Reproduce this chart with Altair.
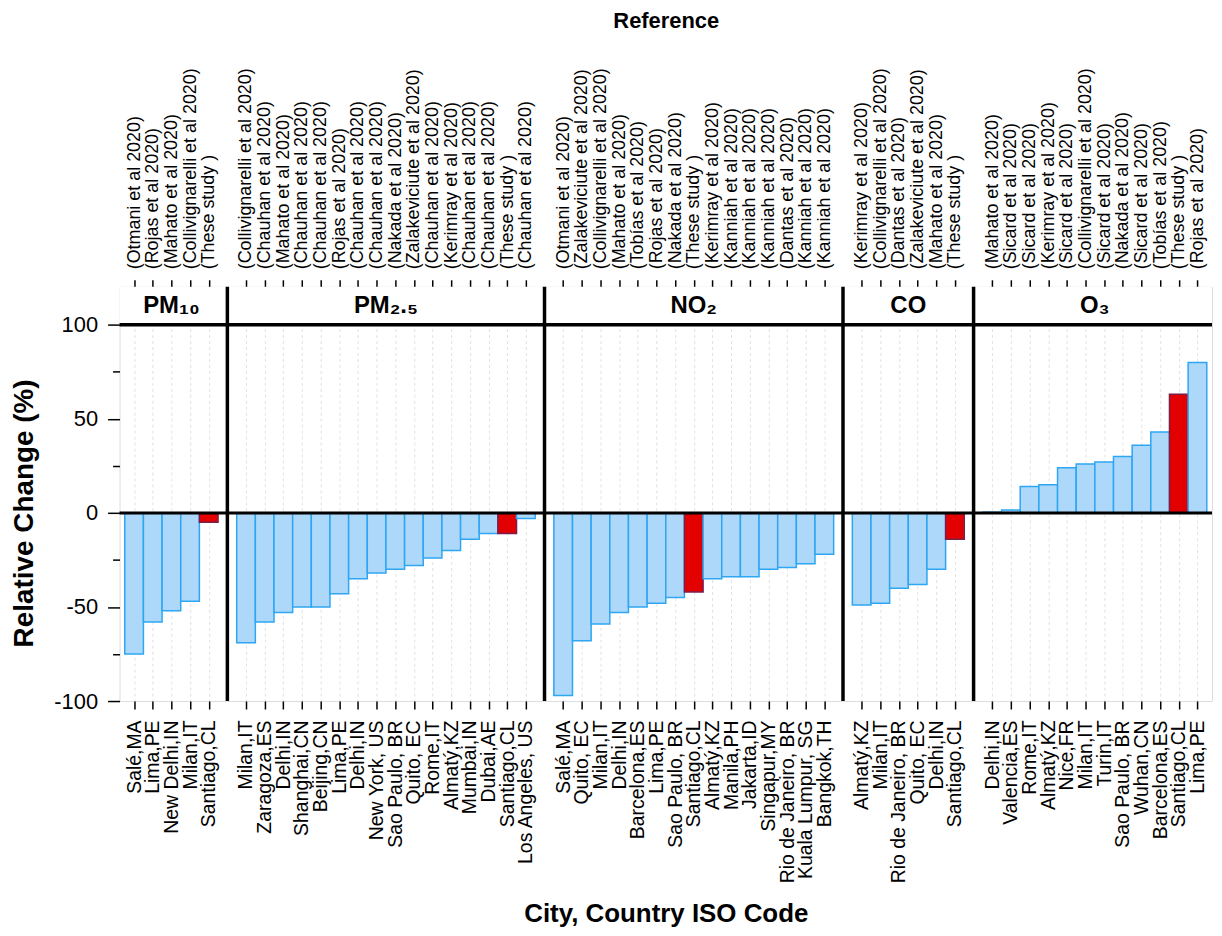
import altair as alt
import pandas as pd

# ---------------- data ----------------
pollutants = ["PM10", "PM2.5", "NO2", "CO", "O3"]
strip_labels = ["PM₁₀", "PM₂.₅", "NO₂", "CO", "O₃"]

pm10_cities = ["Salé,MA", "Lima,PE", "New Delhi,IN", "Milan,IT", "Santiago,CL"]
pm10_refs = ["(Otmani et al 2020)", "(Rojas et al 2020)", "(Mahato et al 2020)",
             "(Collivignarelli et al 2020)", "(These study )"]
pm10_vals = [-75, -58, -52, -47, -5]

pm25_cities = ["Milan,IT", "Zaragoza,ES", "Delhi,IN", "Shanghai,CN", "Beijing,CN", "Lima,PE",
               "Delhi,IN", "New York, US", "Sao Paulo, BR", "Quito, EC", "Rome,IT", "Almatý,KZ",
               "Mumbai,IN", "Dubai,AE", "Santiago,CL", "Los Angeles, US"]
pm25_refs = ["(Collivignarelli et al 2020)", "(Chauhan et al 2020)", "(Mahato et al 2020)",
             "(Chauhan et al 2020)", "(Chauhan et al 2020)", "(Rojas et al 2020)",
             "(Chauhan et al 2020)", "(Chauhan et al 2020)", "(Nakada et al 2020)",
             "(Zalakeviciute et al 2020)", "(Chauhan et al 2020)", "(Kerimray et al 2020)",
             "(Chauhan et al 2020)", "(Chauhan et al 2020)", "(These study )",
             "(Chauhan et al 2020)"]
pm25_vals = [-69, -58, -53, -50, -50, -43, -35, -32, -30, -28, -24, -20, -14, -11, -11, -3]

no2_cities = ["Salé,MA", "Quito, EC", "Milan,IT", "Delhi,IN", "Barcelona,ES", "Lima,PE",
              "Sao Paulo, BR", "Santiago,CL", "Almatý,KZ", "Manila,PH", "Jakarta,ID",
              "Singapur,MY", "Rio de Janeiro, BR", "Kuala Lumpur, SG", "Bangkok,TH"]
no2_refs = ["(Otmani et al 2020)", "(Zalakeviciute et al 2020)", "(Collivignarelli et al 2020)",
            "(Mahato et al 2020)", "(Tobías et al 2020)", "(Rojas et al 2020)",
            "(Nakada et al 2020)", "(These study )", "(Kerimray et al 2020)",
            "(Kanniah et al 2020)", "(Kanniah et al 2020)", "(Kanniah et al 2020)",
            "(Dantas et al 2020)", "(Kanniah et al 2020)", "(Kanniah et al 2020)"]
no2_vals = [-97, -68, -59, -53, -50, -48, -45, -42, -35, -34, -34, -30, -29, -27, -22]

co_cities = ["Almatý,KZ", "Milan,IT", "Rio de Janeiro, BR", "Quito, EC", "Delhi,IN", "Santiago,CL"]
co_refs = ["(Kerimray et al 2020)", "(Collivignarelli et al 2020)", "(Dantas et al 2020)",
           "(Zalakeviciute et al 2020)", "(Mahato et al 2020)", "(These study )"]
co_vals = [-49, -48, -40, -38, -30, -14]

o3_cities = ["Delhi,IN", "Valencia,ES", "Rome,IT", "Almatý,KZ", "Nice,FR", "Milan,IT",
             "Turin,IT", "Sao Paulo, BR", "Wuhan,CN", "Barcelona,ES", "Santiago,CL", "Lima,PE"]
o3_refs = ["(Mahato et al 2020)", "(Sicard et al 2020)", "(Sicard et al 2020)",
           "(Kerimray et al 2020)", "(Sicard et al 2020)", "(Collivignarelli et al 2020)",
           "(Sicard et al 2020)", "(Nakada et al 2020)", "(Sicard et al 2020)",
           "(Tobías et al 2020)", "(These study )", "(Rojas et al 2020)"]
o3_vals = [0.4, 1.5, 14, 15, 24, 26, 27, 30, 36, 43, 63, 80]

groups = [
    (pm10_cities, pm10_refs, pm10_vals),
    (pm25_cities, pm25_refs, pm25_vals),
    (no2_cities, no2_refs, no2_vals),
    (co_cities, co_refs, co_vals),
    (o3_cities, o3_refs, o3_vals),
]

Y_MIN, Y_MAX, STRIP_TOP = -100, 100, 120.2
W, H = 1097, 416

# ---------------- build tables ----------------
rows, domain, real_keys, gaps, strips_odd, strips_even = [], [], [], [], [], []
for p, (pol, lab, (cities, refs, vals)) in enumerate(zip(pollutants, strip_labels, groups)):
    if p > 0:
        g = f"gap{p}"
        domain.append(g)
        gaps.append({"key": g})
    keys = []
    for i, (c, r, v) in enumerate(zip(cities, refs, vals)):
        k = f"{pol}|{i}|{c}|{r}"
        keys.append(k)
        rows.append({"key": k, "value": v, "own": r.startswith("(These")})
    domain += keys
    real_keys += keys
    n = len(keys)
    mid_y = (Y_MAX + STRIP_TOP) / 2
    if n % 2 == 1:
        strips_odd.append({"key": keys[n // 2], "label": lab, "ty": mid_y})
    else:
        strips_even.append({"key": keys[n // 2 - 1], "label": lab, "ty": mid_y})

df = pd.DataFrame(rows)
gap_df = pd.DataFrame(gaps)
odd_df = pd.DataFrame(strips_odd)
even_df = pd.DataFrame(strips_even)
strip_df = pd.DataFrame([{"y1": Y_MAX, "y2": STRIP_TOP}])
line_df = pd.DataFrame([{"yv": 0.0, "w": 3}, {"yv": float(Y_MAX), "w": 3.5}])

FONT = "Liberation Sans"
xscale = alt.Scale(domain=domain, paddingInner=0, paddingOuter=0.28)
yscale = alt.Scale(domain=[Y_MIN, STRIP_TOP], nice=False, zero=False)

tick_props = dict(ticks=True, tickColor="#000000", tickOpacity=1, tickWidth=1.5,
                  tickBand="center", tickOffset=0, bandPosition=0.5)

bottom_axis = alt.Axis(
    orient="bottom", values=real_keys, labelExpr="split(datum.value, '|')[2]",
    labelAngle=270, labelFont=FONT, labelFontSize=19.5, labelColor="black", labelPadding=11,
    labelLimit=400, tickSize=8, domain=False,
    grid=True, gridDash=[3, 3], gridColor="#d9d9d9", gridWidth=0.8,
    title="City, Country ISO Code", titleFont=FONT, titleFontSize=26,
    titleFontWeight="bold", titleColor="black", titlePadding=18, **tick_props,
)
top_axis = alt.Axis(
    orient="top", values=real_keys, labelExpr="split(datum.value, '|')[3]",
    labelAngle=270, labelFont=FONT, labelFontSize=18, labelColor="black", labelPadding=11,
    labelLimit=400, tickSize=7, domain=False, grid=False,
    title="Reference", titleFont=FONT, titleFontSize=22, titleFontWeight="bold",
    titleColor="black", titlePadding=55, **tick_props,
)
y_axis = alt.Axis(
    orient="left",
    values=[-100, -75, -50, -25, 0, 25, 50, 75, 100],
    labelExpr="datum.value % 50 === 0 ? toString(datum.value) : ''",
    labelFont=FONT, labelFontSize=22, labelColor="black", labelPadding=10,
    ticks=True, tickColor="black", tickWidth=1.5,
    tickSize={"condition": {"test": "datum.value % 50 === 0", "value": 12}, "value": 7},
    domain=False, grid=False,
    title="Relative Change (%)", titleFont=FONT, titleFontSize=28, titleFontWeight="bold",
    titleColor="black", titlePadding=15,
    titleY=H * (STRIP_TOP - 0) / (STRIP_TOP - Y_MIN),
)

bars = alt.Chart(df).mark_bar(strokeWidth=1.5).encode(
    x=alt.X("key:N", scale=xscale, axis=bottom_axis),
    y=alt.Y("value:Q", scale=yscale, axis=y_axis),
    y2=alt.Y2Datum(0),
    fill=alt.condition("datum.own", alt.value("#E30000"), alt.value("#ADD8FA")),
    stroke=alt.condition("datum.own", alt.value("#7A1F4A"), alt.value("#2EA6F2")),
)

strip_bg = alt.Chart(strip_df).mark_rect(fill="white").encode(
    y=alt.Y("y1:Q", scale=yscale, axis=None),
    y2="y2:Q",
)

hlines = alt.Chart(line_df).mark_rule(color="black").encode(
    y=alt.Y("yv:Q", scale=yscale, axis=None),
    strokeWidth=alt.StrokeWidth("w:Q", scale=None),
)

seps = alt.Chart(gap_df).mark_rule(color="black", strokeWidth=3.5).encode(
    x=alt.X("key:N", scale=xscale, axis=None),
)

txt_odd = alt.Chart(odd_df).mark_text(
    font=FONT, fontSize=24, fontWeight="bold", color="black", baseline="middle"
).encode(
    x=alt.X("key:N", scale=xscale, axis=None, bandPosition=0.5),
    y=alt.Y("ty:Q", scale=yscale, axis=None),
    text="label:N",
)
txt_even = alt.Chart(even_df).mark_text(
    font=FONT, fontSize=24, fontWeight="bold", color="black", baseline="middle"
).encode(
    x=alt.X("key:N", scale=xscale, axis=None, bandPosition=1.0),
    y=alt.Y("ty:Q", scale=yscale, axis=None),
    text="label:N",
)

top = alt.Chart(df).mark_point(opacity=0).encode(
    x=alt.X("key:N", scale=xscale, axis=top_axis),
)

chart = alt.layer(bars, strip_bg, hlines, seps, txt_odd, txt_even, top).resolve_axis(
    x="independent", y="independent"
).resolve_scale(x="shared", y="shared").properties(
    width=W, height=H,
    padding={"left": 2, "right": 0, "top": 0, "bottom": 0},
).configure_view(
    stroke="black", strokeWidth=3.5, fill="white"
).configure(background="white")

chart.save("out.html", embed_options={"renderer": "svg", "actions": False})
